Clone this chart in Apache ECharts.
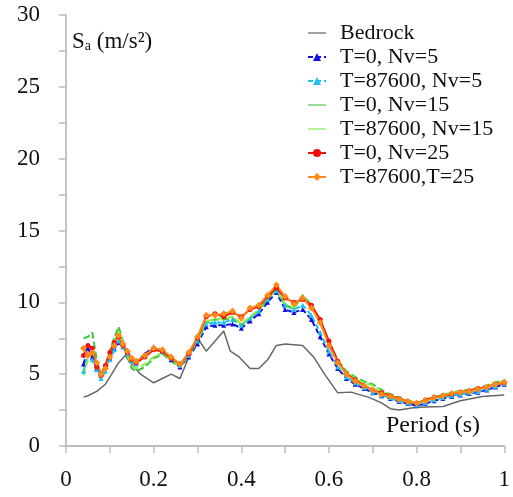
<!DOCTYPE html>
<html>
<head>
<meta charset="utf-8">
<script src="https://cdn.jsdelivr.net/npm/echarts@6/dist/echarts.min.js"></script>
<style>
  html, body { margin: 0; padding: 0; background: #fff; }
  #chart { width: 513px; height: 497px; }
</style>
</head>
<body>
<div id="chart"></div>
<script>
// Spectral acceleration Sa (m/s²) against period (s)
const bedrockPeriods = [0.04, 0.05, 0.07, 0.09, 0.10, 0.12, 0.135, 0.15, 0.17, 0.20, 0.22, 0.24, 0.26, 0.29, 0.305, 0.32, 0.36, 0.375, 0.395, 0.42, 0.44, 0.46, 0.48, 0.50, 0.54, 0.565, 0.59, 0.62, 0.65, 0.69, 0.72, 0.74, 0.76, 0.80, 0.86, 0.90, 0.95, 1.00];
const bedrock = [3.4, 3.5, 3.8, 4.3, 4.8, 5.8, 6.3, 5.7, 5.0, 4.4, 4.7, 5.0, 4.7, 6.9, 7.3, 6.6, 8.0, 6.6, 6.2, 5.4, 5.4, 6.0, 7.0, 7.1, 7.0, 6.2, 5.0, 3.7, 3.75, 3.4, 3.0, 2.6, 2.5, 2.7, 2.75, 3.15, 3.45, 3.55];

const periods = [0.04, 0.05, 0.06, 0.07, 0.08, 0.09, 0.10, 0.11, 0.12, 0.13, 0.14, 0.15, 0.16, 0.18, 0.20, 0.22, 0.24, 0.26, 0.28, 0.30, 0.32, 0.34, 0.36, 0.38, 0.40, 0.42, 0.44, 0.46, 0.48, 0.50, 0.52, 0.54, 0.56, 0.58, 0.60, 0.62, 0.64, 0.66, 0.68, 0.70, 0.72, 0.74, 0.76, 0.78, 0.80, 0.82, 0.84, 0.86, 0.88, 0.90, 0.92, 0.94, 0.96, 0.98, 1.00];

const t0Nv5 = [5.7, 6.8, 6.2, 5.4, 5.1, 5.5, 6.1, 6.8, 7.2, 6.9, 6.5, 6.0, 5.8, 6.4, 6.9, 6.6, 6.0, 5.5, 6.2, 7.1, 8.3, 8.4, 8.4, 8.5, 8.2, 8.7, 9.2, 10.0, 10.7, 9.5, 9.3, 9.5, 8.8, 7.6, 6.4, 5.4, 4.7, 4.3, 4.0, 3.7, 3.5, 3.3, 3.1, 2.95, 2.8, 2.95, 3.15, 3.3, 3.45, 3.55, 3.65, 3.75, 3.9, 4.1, 4.3];
const t87600Nv5 = [5.2, 6.4, 6.0, 5.3, 4.7, 5.2, 6.0, 6.7, 7.3, 6.9, 6.4, 5.9, 5.7, 6.3, 6.8, 6.6, 6.1, 5.6, 6.3, 7.3, 8.5, 8.6, 8.6, 8.8, 8.4, 8.9, 9.4, 10.2, 10.8, 9.8, 9.5, 9.8, 9.1, 7.9, 6.6, 5.5, 4.8, 4.4, 4.05, 3.75, 3.55, 3.35, 3.15, 3.0, 2.85, 3.0, 3.2, 3.35, 3.5, 3.6, 3.7, 3.8, 3.95, 4.15, 4.35];
const t0Nv15 = [7.5, 7.6, 7.9, 6.0, 4.8, 5.6, 6.6, 7.5, 8.3, 7.3, 6.2, 5.4, 5.2, 5.5, 6.1, 6.4, 5.9, 5.5, 6.3, 7.3, 8.6, 8.8, 8.8, 8.9, 8.4, 8.9, 9.4, 10.2, 10.9, 9.8, 9.6, 10.5, 9.8, 8.6, 7.2, 6.0, 5.2, 4.8, 4.5, 4.3, 3.9, 3.6, 3.35, 3.15, 3.0, 3.2, 3.4, 3.55, 3.7, 3.85, 3.9, 4.05, 4.2, 4.45, 4.5];
const t87600Nv15 = [4.9, 6.0, 6.6, 5.6, 5.2, 5.5, 6.3, 7.2, 8.0, 7.2, 6.3, 5.6, 5.4, 5.7, 6.2, 6.5, 6.0, 5.6, 6.3, 7.4, 8.7, 8.8, 8.9, 9.0, 8.5, 9.0, 9.5, 10.3, 10.9, 9.9, 9.6, 10.4, 9.7, 8.5, 7.1, 5.9, 5.1, 4.7, 4.4, 4.2, 3.8, 3.55, 3.3, 3.1, 2.95, 3.15, 3.35, 3.5, 3.65, 3.8, 3.85, 4.0, 4.15, 4.4, 4.5];
const t0Nv25 = [6.3, 7.0, 6.8, 5.5, 4.9, 5.6, 6.5, 7.2, 7.6, 7.0, 6.5, 6.0, 5.8, 6.2, 6.7, 6.6, 6.1, 5.7, 6.4, 7.5, 9.0, 9.2, 9.0, 9.3, 9.0, 9.5, 9.7, 10.4, 11.0, 10.3, 10.0, 10.2, 9.8, 8.8, 7.3, 5.9, 5.0, 4.6, 4.2, 3.9, 3.7, 3.5, 3.3, 3.1, 2.95, 3.2, 3.4, 3.5, 3.6, 3.75, 3.85, 4.0, 4.1, 4.3, 4.4];
const t87600Nv25 = [6.8, 6.3, 6.5, 5.8, 5.0, 5.4, 6.2, 7.0, 7.7, 7.1, 6.6, 6.1, 5.9, 6.3, 6.8, 6.7, 6.2, 5.7, 6.5, 7.6, 9.1, 9.1, 9.2, 9.4, 8.9, 9.6, 9.8, 10.5, 11.2, 10.4, 9.9, 10.3, 9.6, 8.6, 7.0, 5.8, 5.0, 4.5, 4.2, 3.9, 3.6, 3.45, 3.25, 3.1, 3.0, 3.15, 3.35, 3.5, 3.65, 3.75, 3.8, 3.95, 4.1, 4.3, 4.45];

const xTicks = [0, 0.2, 0.4, 0.6, 0.8, 1];
const yTicks = [0, 5, 10, 15, 20, 25, 30];

const FONT = 'Liberation Serif';
const pair = (xs, ys) => xs.map((x, i) => [x, ys[i]]);
// plain short stroke used as the legend key for the unmarked lines
const LINE_ICON = 'path://M0,0 L18,0 L18,1.6 L0,1.6 Z';

const chart = echarts.init(document.getElementById('chart'), null, { renderer: 'canvas' });

function lineSeries(name, ys, color, opts) {
  return Object.assign({
    name: name,
    type: 'line',
    data: pair(periods, ys),
    color: color,
    symbol: 'none',
    symbolSize: 5,
    lineStyle: { color: color, width: 2 },
    itemStyle: { color: color },
    animation: false,
    z: 3
  }, opts || {});
}

chart.setOption({
  animation: false,
  textStyle: { fontFamily: FONT },
  grid: { left: 66, right: 2, top: 15, bottom: 51, containLabel: false },
  xAxis: {
    type: 'value',
    min: xTicks[0],
    max: xTicks[xTicks.length - 1],
    interval: 0.2,
    axisLine: { show: true, lineStyle: { color: '#bdbdbd', width: 1.8 } },
    axisTick: { show: true, inside: false, length: 7, lineStyle: { color: '#bdbdbd', width: 1.5 } },
    minorTick: { show: true, splitNumber: 2, length: 7, lineStyle: { color: '#bdbdbd', width: 1.5 } },
    splitLine: { show: false },
    axisLabel: {
      margin: 22, fontSize: 23, color: '#111', fontFamily: FONT,
      formatter: v => String(xTicks.find(t => Math.abs(t - v) < 1e-9) ?? v)
    }
  },
  yAxis: {
    type: 'value',
    min: yTicks[0],
    max: yTicks[yTicks.length - 1],
    interval: 5,
    axisLine: { show: true, lineStyle: { color: '#bdbdbd', width: 1.8 } },
    axisTick: { show: true, inside: false, length: 7, lineStyle: { color: '#bdbdbd', width: 1.5 } },
    minorTick: { show: true, splitNumber: 2, length: 7, lineStyle: { color: '#bdbdbd', width: 1.5 } },
    splitLine: { show: false },
    axisLabel: { margin: 26, fontSize: 23, color: '#111', fontFamily: FONT }
  },
  legend: {
    orient: 'vertical',
    left: 302,
    top: 17,
    itemWidth: 18,
    itemHeight: 10,
    itemGap: 2,
    symbolKeepAspect: true,
    textStyle: { fontFamily: FONT, fontSize: 22, color: '#111', lineHeight: 22, padding: [0, 0, 0, 9] },
    data: [
      { name: 'Bedrock', icon: LINE_ICON },
      'T=0, Nv=5',
      'T=87600, Nv=5',
      { name: 'T=0, Nv=15', icon: LINE_ICON },
      { name: 'T=87600, Nv=15', icon: LINE_ICON },
      'T=0, Nv=25',
      'T=87600,T=25'
    ]
  },
  graphic: [
    {
      type: 'text', left: 72, top: 30,
      style: {
        text: '{s|S}{a|a}{s| (m/s²)}',
        rich: {
          s: { fontFamily: FONT, fontSize: 23, fill: '#111' },
          a: { fontFamily: FONT, fontSize: 14, fill: '#111', padding: [10, 0, 0, 0] }
        }
      }
    },
    {
      type: 'text', left: 386, top: 414,
      style: { text: 'Period (s)', fontFamily: FONT, fontSize: 24, fill: '#111' }
    }
  ],
  series: [
    {
      name: 'Bedrock', type: 'line', data: pair(bedrockPeriods, bedrock),
      color: '#666', symbol: 'none',
      lineStyle: { color: '#666', width: 1.5 }, itemStyle: { color: '#888' }, z: 2
    },
    lineSeries('T=0, Nv=5', t0Nv5, '#1010e0', { symbol: 'triangle', symbolSize: 5, lineStyle: { color: '#1010e0', width: 2, type: [5, 3] } }),
    lineSeries('T=87600, Nv=5', t87600Nv5, '#1ec0f0', { symbol: 'triangle', symbolSize: 5, lineStyle: { color: '#1ec0f0', width: 2, type: [5, 3] } }),
    lineSeries('T=0, Nv=15', t0Nv15, '#3cc43c', { itemStyle: { color: '#7fd47f' }, lineStyle: { color: '#3cc43c', width: 2, type: [7, 3] } }),
    lineSeries('T=87600, Nv=15', t87600Nv15, '#8cf04a', { itemStyle: { color: '#a8f080' }, lineStyle: { color: '#8cf04a', width: 2, type: [7, 3] } }),
    lineSeries('T=0, Nv=25', t0Nv25, '#f01010', { symbol: 'circle', symbolSize: 5 }),
    lineSeries('T=87600,T=25', t87600Nv25, '#ff8a1a', { symbol: 'diamond', symbolSize: 7 })
  ]
});
</script>
</body>
</html>
